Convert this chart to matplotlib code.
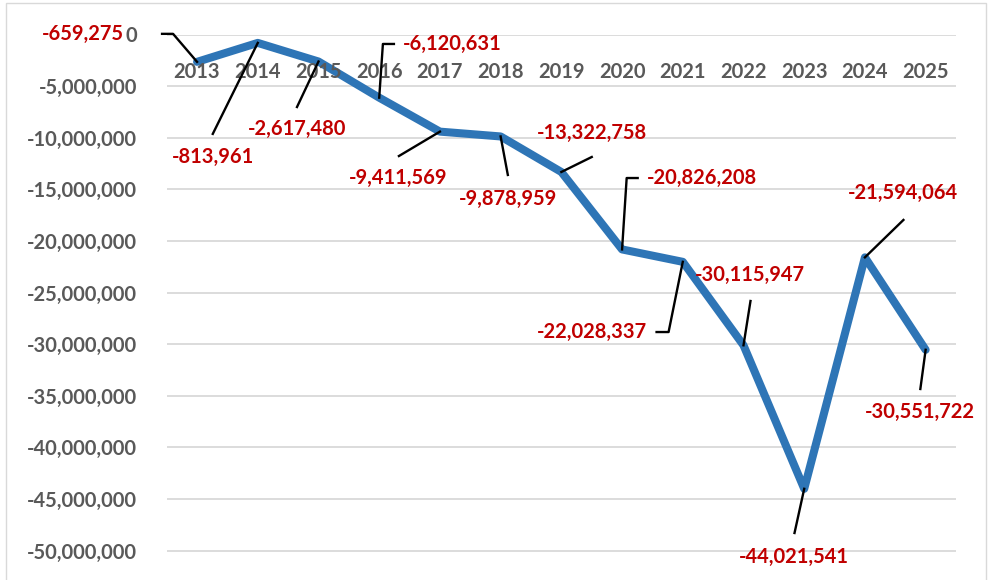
import matplotlib
matplotlib.use("Agg")
import matplotlib.pyplot as plt
from matplotlib.patches import Rectangle
from matplotlib.lines import Line2D
from matplotlib.transforms import IdentityTransform
from matplotlib.ticker import FuncFormatter, MultipleLocator

# ---------------- data ----------------
years = ["2013", "2014", "2015", "2016", "2017", "2018", "2019",
         "2020", "2021", "2022", "2023", "2024", "2025"]
values = [-2650000, -813961, -2617480, -6120631, -9411569, -9878959,
          -13322758, -20826208, -22028337, -30115947, -44021541,
          -21594064, -30551722]
value_labels = ["-659,275", "-813,961", "-2,617,480", "-6,120,631",
                "-9,411,569", "-9,878,959", "-13,322,758", "-20,826,208",
                "-22,028,337", "-30,115,947", "-44,021,541", "-21,594,064",
                "-30,551,722"]

# ------------- layout (pixel offsets from each point, image y downward) -------------
leader_paths = [
    [(-24, -28), (-35, -28)],
    [(-45, 91)],
    [(-21.5, 45.5)],
    [(3.7, -53.7), (14.7, -53.7)],
    [(-41, 24.4)],
    [(7.2, 38.5)],
    [(30.4, -15)],
    [(4.6, -71.4), (15.6, -71.4)],
    [(-14.2, 70.2), (-26.2, 70.2)],
    [(7, -44.3)],
    [(-9.7, 44.2)],
    [(38.5, -37.4)],
    [(-5.3, 39.2)],
]
label_anchor = [
    (-73, -28, "right"),
    (-45, 114, "center"),
    (-21.5, 67.5, "center"),
    (23.7, -53.7, "left"),
    (-42, 46.4, "center"),
    (7.2, 62.5, "center"),
    (30.4, -39, "center"),
    (24.6, -71.4, "left"),
    (-36.2, 70.2, "right"),
    (6, -70.3, "center"),
    (-10.7, 68.2, "center"),
    (38.5, -64.4, "center"),
    (-5.3, 62.2, "center"),
]

W, H, DPI = 992, 580, 100
FONT = "Lato"
RED = "#C00000"
GRAY = "#595959"
BLUE = "#2E75B6"
GRID = "#D9D9D9"
FS = 14.5

fig = plt.figure(figsize=(W / DPI, H / DPI), dpi=DPI)
fig.patch.set_facecolor("white")

left_px, right_px = 166.7, 956.0
top_px, bottom_px = 34.5, 580.0
ax = fig.add_axes([left_px / W, 1 - bottom_px / H,
                   (right_px - left_px) / W, (bottom_px - top_px) / H])

x = list(range(len(years)))
ax.set_xlim(-0.5, len(years) - 0.5)
ymin = -(bottom_px - top_px) / 10.32 * 1e6
ax.set_ylim(ymin, 0)

ax.yaxis.set_major_locator(MultipleLocator(5_000_000))
ax.yaxis.set_major_formatter(FuncFormatter(lambda v, p: f"{v:,.0f}"))
ax.grid(axis="y", color=GRID, linewidth=1.3)
ax.set_axisbelow(True)
for s in ax.spines.values():
    s.set_visible(False)
ax.tick_params(axis="y", length=0, pad=21.4, labelsize=FS, labelcolor=GRAY)
for t in ax.get_yticklabels():
    t.set_fontfamily(FONT)
    t.set_fontweight("bold")
ax.set_xticks([])

ax.plot(x, values, color=BLUE, linewidth=5.8, solid_joinstyle="round",
        solid_capstyle="round", zorder=3)

# year labels just under the zero line
for i, yr in enumerate(years):
    ax.annotate(yr, xy=(i, 0), xytext=(0, -37.5), textcoords="offset pixels",
                ha="center", va="center", fontsize=FS, fontweight="bold",
                color=GRAY, family=FONT, zorder=4, annotation_clip=False)

fig.canvas.draw()

# leader lines and data labels
for i, v in enumerate(values):
    px, py = ax.transData.transform((i, v))
    xs = [px] + [px + dx for dx, dy in leader_paths[i]]
    ys = [py] + [py - dy for dx, dy in leader_paths[i]]
    fig.add_artist(Line2D(xs, ys, transform=IdentityTransform(),
                          color="black", linewidth=1.7, zorder=5))
    dx, dy, ha = label_anchor[i]
    ax.annotate(value_labels[i], xy=(i, v), xytext=(dx, -dy),
                textcoords="offset pixels", ha=ha, va="center",
                fontsize=FS, fontweight="bold", color=RED, family=FONT,
                zorder=6, annotation_clip=False)

# chart frame
fig.patches.append(Rectangle((6 / W, -0.05), (986 - 6) / W, 1.05 - 2.7 / H,
                             transform=fig.transFigure, fill=False,
                             edgecolor=GRID, linewidth=1.0, zorder=0))

fig.savefig("out.png", dpi=DPI)
